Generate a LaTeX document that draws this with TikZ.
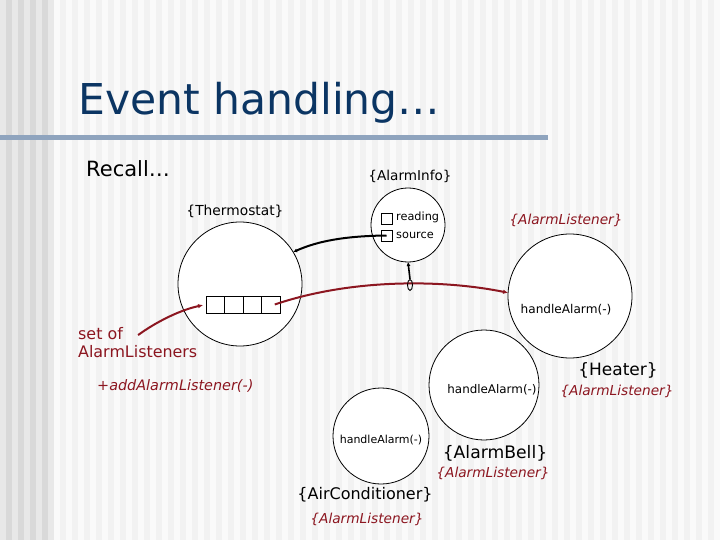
\documentclass[tikz,border=0pt]{standalone}
\usepackage{fontspec}
\setmainfont{DejaVu Sans}
\usepackage{xcolor}
\usetikzlibrary{arrows.meta,shapes.geometric,positioning}
\definecolor{titleblue}{RGB}{11,53,99}
\definecolor{rulegray}{RGB}{143,164,190}
\definecolor{listred}{RGB}{140,22,32}
\tikzset{
  blob/.style={circle,draw=black,fill=white,line width=0.8pt,inner sep=0,outer sep=0},
  cellbox/.style={draw=black,fill=white,line width=0.9pt,minimum width=18.5pt,minimum height=17pt,inner sep=0,outer sep=0},
  fieldbox/.style={draw=black,fill=white,line width=0.8pt,minimum size=11pt,inner sep=0,outer sep=0},
  txt/.style={inner sep=0,anchor=base},
  redtxt/.style={txt,text=listred,font=\itshape\fontsize{13.7}{16}\selectfont},
  redarrow/.style={draw=listred,line width=2pt,-{Latex[length=5pt,width=4.5pt]}},
  blackarrow/.style={draw=black,line width=2pt,-{Latex[length=4pt,width=4pt]}}
}

\begin{document}
\begin{tikzpicture}[x=1pt,y=-1pt]
    \useasboundingbox (0,0) rectangle (720,540);
    \fill[black!5] (0,0) rectangle (720,540);
    \foreach \x in {54,66,...,714}
        \fill[black!2] (\x,0) rectangle (\x+6,540);
    \fill[black!15] (0,0) rectangle (54,540);
    \foreach \x in {0,12,...,48}
        \fill[black!9] (\x,0) rectangle (\x+6,540);

    \node[txt,anchor=base west,text=titleblue,font=\fontsize{42.5}{50}\selectfont] (title) at (78,115) {Event handling…};
    \fill[rulegray] (0,135) rectangle (548,140.5);
    \node[txt,anchor=base west,font=\fontsize{21}{24}\selectfont] (recall) at (86,177) {Recall…};

    % objects
    \node[blob,minimum size=124pt] (thermo) at (240,284) {};
    \node[blob,minimum size=74pt] (info) at (408,225) {};
    \node[blob,minimum size=124pt] (heater) at (570,296) {};
    \node[blob,minimum size=110pt] (bell) at (484,385) {};
    \node[blob,minimum size=96pt] (aircon) at (381,436) {};

    \node[txt,font=\fontsize{13.6}{16}\selectfont] (infolbl) at (410,181) {\{AlarmInfo\}};
    \node[txt,font=\fontsize{13.8}{16}\selectfont] (thermolbl) at (235,215) {\{Thermostat\}};

    % fields of AlarmInfo
    \node[fieldbox] (readbox) at (386.5,218.5) {};
    \node[fieldbox] (srcbox) at (386.5,235.5) {};
    \node[txt,anchor=base west,font=\fontsize{11.3}{13}\selectfont] (readlbl) at (396,221) {reading};
    \node[txt,anchor=base west,font=\fontsize{11.3}{13}\selectfont] (srclbl) at (396,239) {source};

    % set of listeners
    \foreach \i in {0,...,3}
        \node[cellbox] (cell\i) at (215.25+18.5*\i,304.5) {};

    \node[redtxt] (hdrlbl) at (566,225) {\{AlarmListener\}};
    \node[txt,font=\fontsize{12.1}{14}\selectfont] (heatfn) at (566,313) {handleAlarm(-)};
    \node[txt,font=\fontsize{17}{20}\selectfont] (heatlbl) at (618,375) {\{Heater\}};
    \node[redtxt] (heattype) at (617,395) {\{AlarmListener\}};

    \node[txt,font=\fontsize{11.9}{14}\selectfont] (bellfn) at (492,393) {handleAlarm(-)};
    \node[txt,font=\fontsize{17.2}{20}\selectfont] (belllbl) at (495,458) {\{AlarmBell\}};
    \node[redtxt] (belltype) at (493,477) {\{AlarmListener\}};

    \node[txt,font=\fontsize{11}{13}\selectfont] (airfn) at (381,443) {handleAlarm(-)};
    \node[txt,font=\fontsize{16}{19}\selectfont] (airlbl) at (365,499) {\{AirConditioner\}};
    \node[redtxt] (airtype) at (367,523) {\{AlarmListener\}};

    \node[txt,anchor=base west,text=listred,font=\fontsize{15.9}{18}\selectfont] (setof) at (78,339) {set of};
    \node[txt,anchor=base west,text=listred,font=\fontsize{15.9}{18}\selectfont] (setlbl) at (78,357) {AlarmListeners};
    \node[txt,anchor=base west,text=listred,font=\itshape\fontsize{14.4}{17}\selectfont] (addlbl) at (97,390) {+addAlarmListener(-)};

    % links
    \draw[blackarrow] (srcbox.center) .. controls (345,236) and (318,241) .. (thermo.31);
    \draw[redarrow] ([xshift=4pt]cell3.center) .. controls (350,279) and (440,279) .. (heater.177);
    \draw[redarrow,shorten >=3pt] ([xshift=15pt,yshift=-2pt]setof.east) .. controls (156,322) and (180,310) .. (cell0.west);
    \node[draw=black,ellipse,line width=0.9pt,minimum width=5pt,minimum height=11pt,inner sep=0] (hook) at (410,285) {};
    \draw[blackarrow,line width=1.6pt] (hook.north) -- (info.south);
\end{tikzpicture}
\end{document}
